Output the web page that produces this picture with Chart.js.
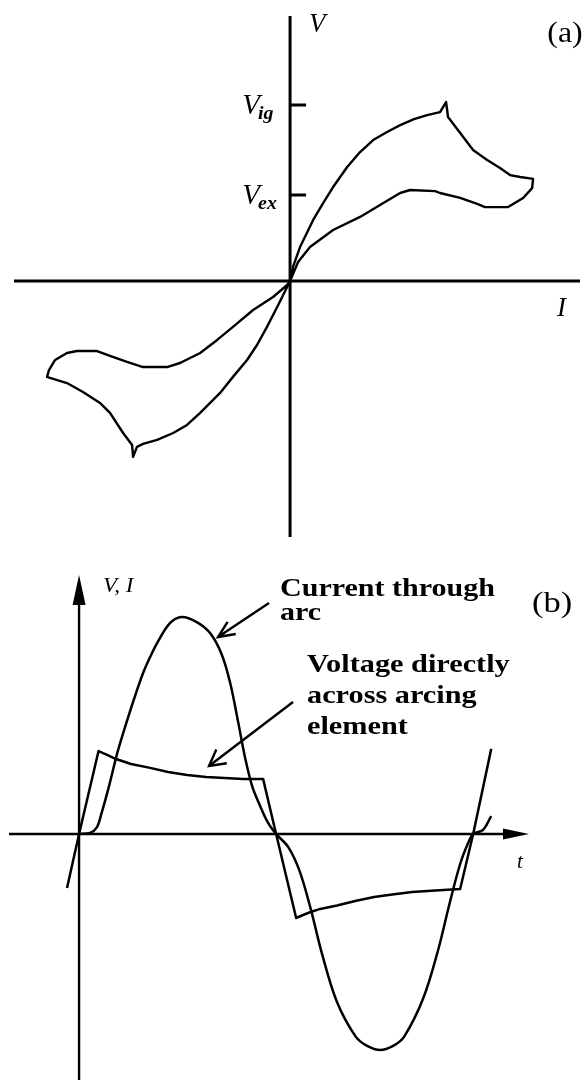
<!DOCTYPE html>
<html>
<head>
<meta charset="utf-8">
<script src="https://cdn.jsdelivr.net/npm/chart.js@4/dist/chart.umd.min.js"></script>
<style>
  html, body { margin: 0; padding: 0; background: #fff; }
  #wrap { position: relative; width: 586px; height: 1080px; overflow: hidden; }
  canvas { position: absolute; left: 0; }
  #ca { top: 0; }
  #cb { top: 540px; }
</style>
</head>
<body>
<div id="wrap">
  <canvas id="ca" width="586" height="540"></canvas>
  <canvas id="cb" width="586" height="540"></canvas>
</div>
<script>
// ---------- (a) dynamic V–I loop of the arc ----------
// Current in per-unit of the loop width, voltage in per-unit of V_ig.
const loopPosI = [0, 0.012, 0.041, 0.095, 0.136, 0.177, 0.235, 0.288, 0.342, 0.399, 0.453, 0.510, 0.564, 0.617, 0.642, 0.650, 0.700, 0.753, 0.811, 0.864, 0.905, 0.947, 1.0, 0.996, 0.959, 0.897, 0.802, 0.770, 0.700, 0.617, 0.597, 0.494, 0.453, 0.370, 0.288, 0.177, 0.082, 0.033, 0];
const loopPosV = [0, 0.080, 0.193, 0.347, 0.443, 0.534, 0.648, 0.733, 0.801, 0.847, 0.886, 0.920, 0.943, 0.960, 1.017, 0.932, 0.841, 0.744, 0.688, 0.642, 0.602, 0.591, 0.580, 0.528, 0.472, 0.420, 0.420, 0.438, 0.472, 0.500, 0.511, 0.517, 0.500, 0.432, 0.364, 0.290, 0.193, 0.108, 0];
const loopNegI = [0, -0.012, -0.053, -0.095, -0.136, -0.177, -0.235, -0.288, -0.370, -0.424, -0.481, -0.547, -0.605, -0.630, -0.646, -0.650, -0.687, -0.741, -0.782, -0.852, -0.918, -0.988, -1.0, -0.992, -0.967, -0.918, -0.877, -0.794, -0.741, -0.671, -0.605, -0.506, -0.453, -0.370, -0.300, -0.235, -0.152, -0.070, -0.012, 0];
const loopNegV = [0, -0.034, -0.148, -0.261, -0.364, -0.449, -0.545, -0.636, -0.750, -0.818, -0.864, -0.903, -0.926, -0.943, -1.0, -0.932, -0.864, -0.750, -0.693, -0.631, -0.580, -0.551, -0.545, -0.506, -0.449, -0.409, -0.398, -0.398, -0.426, -0.460, -0.489, -0.489, -0.466, -0.409, -0.335, -0.261, -0.165, -0.091, -0.023, 0];
const vTickValues = [1.0, 0.489];          // V_ig, V_ex
const vTickNames  = [['V', 'ig'], ['V', 'ex']];
const I_RANGE = [-1.136, 1.193];
const V_RANGE = [-1.455, 1.506];

// ---------- (b) waveforms over one cycle (t in electrical degrees) ----------
const currentT = [0, 10.1, 16.4, 20.1, 27.2, 35.2, 44.8, 51.2, 58.5, 64.9, 71.3, 83.2, 93.8, 107.5, 119.7, 130.4, 138.0, 145.3, 151.7, 158.1, 165.4, 172.7, 180, 191, 201.4, 211.6, 222, 235.6, 252.7, 263.2, 275, 286.9, 297, 314.3, 328, 338, 348.1, 355.4, 360, 369, 376.5];
const currentY = [0, 0.005, 0.032, 0.088, 0.218, 0.380, 0.540, 0.640, 0.745, 0.819, 0.884, 0.977, 1.005, 0.981, 0.930, 0.830, 0.700, 0.519, 0.352, 0.222, 0.130, 0.051, 0, -0.060, -0.171, -0.347, -0.556, -0.778, -0.938, -0.981, -1.0, -0.981, -0.938, -0.762, -0.537, -0.331, -0.139, -0.042, 0, 0.019, 0.083];
const voltageT = [-11, 0, 17.8, 25.6, 33.8, 47.5, 64.9, 81.3, 98.7, 116.0, 133.0, 149.9, 168.1, 180, 198.3, 204.7, 211.6, 220.2, 235.7, 252.2, 269.5, 286.0, 304.3, 325.3, 348.1, 360, 376.5];
const voltageY = [-0.25, 0, 0.384, 0.366, 0.347, 0.324, 0.306, 0.287, 0.273, 0.264, 0.259, 0.255, 0.255, 0, -0.389, -0.375, -0.361, -0.347, -0.331, -0.310, -0.292, -0.280, -0.269, -0.262, -0.255, 0, 0.394];
const T_RANGE = [-64, 411];
const Y_RANGE = [-1.139, 1.199];

const SERIF = "'Liberation Serif', 'Times New Roman', serif";

function pts(xs, ys) { return xs.map((x, i) => ({ x: x, y: ys[i] })); }

function text(ctx, str, x, y, font, align, sx) {
  ctx.save();
  ctx.font = font;
  ctx.textAlign = align || 'left';
  ctx.textBaseline = 'alphabetic';
  ctx.fillStyle = '#000';
  ctx.translate(x, y);
  ctx.scale(sx || 1, 1);
  ctx.fillText(str, 0, 0);
  ctx.restore();
}

function openArrow(ctx, x1, y1, x2, y2, len, ang) {
  const a = Math.atan2(y1 - y2, x1 - x2);
  ctx.beginPath();
  ctx.moveTo(x1, y1); ctx.lineTo(x2, y2);
  ctx.moveTo(x2 + len * Math.cos(a - ang), y2 + len * Math.sin(a - ang));
  ctx.lineTo(x2, y2);
  ctx.lineTo(x2 + len * Math.cos(a + ang), y2 + len * Math.sin(a + ang));
  ctx.stroke();
}

const lineStyle = { showLine: true, borderColor: '#000', pointRadius: 0, tension: 0, fill: false, borderJoinStyle: 'round' };

const baseOptions = (xr, yr, pad) => ({
  responsive: false,
  animation: false,
  devicePixelRatio: 1,
  layout: { padding: pad },
  plugins: { legend: { display: false }, tooltip: { enabled: false } },
  scales: {
    x: { type: 'linear', min: xr[0], max: xr[1], display: false },
    y: { type: 'linear', min: yr[0], max: yr[1], display: false }
  }
});

// axes crossing at the origin, V-axis ticks and labels for (a)
const axesA = {
  id: 'axesA',
  beforeDatasetsDraw(chart) {
    const { ctx, chartArea: a, scales: { x, y } } = chart;
    const x0 = x.getPixelForValue(0), y0 = y.getPixelForValue(0);
    ctx.save();
    ctx.strokeStyle = '#000';
    ctx.lineWidth = 3;
    ctx.beginPath();
    ctx.moveTo(a.left, y0); ctx.lineTo(a.right, y0);
    ctx.moveTo(x0, a.top); ctx.lineTo(x0, a.bottom);
    vTickValues.forEach(v => {
      const py = y.getPixelForValue(v);
      ctx.moveTo(x0, py); ctx.lineTo(x0 + 16, py);
    });
    ctx.stroke();
    ctx.restore();

    vTickValues.forEach((v, k) => {
      const py = y.getPixelForValue(v);
      text(ctx, vTickNames[k][0], x0 - 30, py + 9, 'italic 29px ' + SERIF, 'right', 1.0);
      text(ctx, vTickNames[k][1], x0 - 32, py + 14, 'italic bold 19px ' + SERIF, 'left', 1.05);
    });
    text(ctx, 'V', x0 + 19, a.top + 16, 'italic 27px ' + SERIF, 'left', 1.0);
    text(ctx, 'I', a.right - 23, y0 + 35, 'italic 27px ' + SERIF, 'left', 1.0);
    text(ctx, '(a)', 565, 42, '29px ' + SERIF, 'center', 1.1);
  }
};

// axes with arrowheads, labels and call-outs for (b)
const axesB = {
  id: 'axesB',
  beforeDatasetsDraw(chart) {
    const { ctx, chartArea: a, scales: { x, y } } = chart;
    const x0 = x.getPixelForValue(0), y0 = y.getPixelForValue(0);
    ctx.save();
    ctx.strokeStyle = '#000';
    ctx.fillStyle = '#000';
    ctx.lineWidth = 2.4;
    ctx.beginPath();
    ctx.moveTo(a.left, y0); ctx.lineTo(a.right - 20, y0);
    ctx.moveTo(x0, a.bottom); ctx.lineTo(x0, a.top + 25);
    ctx.stroke();
    // arrowheads
    ctx.beginPath();
    ctx.moveTo(a.right, y0); ctx.lineTo(a.right - 26, y0 - 5.5); ctx.lineTo(a.right - 26, y0 + 5.5); ctx.closePath();
    ctx.moveTo(x0, a.top); ctx.lineTo(x0 - 6.5, a.top + 30); ctx.lineTo(x0 + 6.5, a.top + 30); ctx.closePath();
    ctx.fill();
    ctx.restore();

    text(ctx, 'V, I', x0 + 24, a.top + 17, 'italic 21px ' + SERIF, 'left', 1.1);
    text(ctx, 't', a.right - 12, y0 + 34, 'italic 21px ' + SERIF, 'left', 1.0);
    text(ctx, '(b)', 552, 72, '30px ' + SERIF, 'center', 1.15);
  },
  afterDatasetsDraw(chart) {
    const { ctx } = chart;
    const B = 'bold 26px ' + SERIF;
    text(ctx, 'Current through', 280, 56, B, 'left', 1.155);
    text(ctx, 'arc', 280, 80, B, 'left', 1.155);
    text(ctx, 'Voltage directly', 307, 132, B, 'left', 1.165);
    text(ctx, 'across arcing', 307, 163, B, 'left', 1.165);
    text(ctx, 'element', 307, 194, B, 'left', 1.165);
    ctx.save();
    ctx.strokeStyle = '#000';
    ctx.lineWidth = 2.4;
    ctx.lineCap = 'butt';
    openArrow(ctx, 269, 63, 218, 97, 18, 0.42);
    openArrow(ctx, 293, 162, 209, 226, 18, 0.5);
    ctx.restore();
  }
};

new Chart(document.getElementById('ca'), {
  type: 'scatter',
  data: {
    datasets: [
      Object.assign({ label: 'positive half-cycle', data: pts(loopPosI, loopPosV), borderWidth: 2.4 }, lineStyle),
      Object.assign({ label: 'negative half-cycle', data: pts(loopNegI, loopNegV), borderWidth: 2.4 }, lineStyle)
    ]
  },
  options: baseOptions(I_RANGE, V_RANGE, { left: 14, right: 6, top: 16, bottom: 3 }),
  plugins: [axesA]
});

new Chart(document.getElementById('cb'), {
  type: 'scatter',
  data: {
    datasets: [
      Object.assign({ label: 'Current through arc', data: pts(currentT, currentY), borderWidth: 2.5 }, lineStyle, { tension: 0.35 }),
      Object.assign({ label: 'Voltage directly across arcing element', data: pts(voltageT, voltageY), borderWidth: 2.5 }, lineStyle)
    ]
  },
  options: baseOptions(T_RANGE, Y_RANGE, { left: 9, right: 57, top: 35, bottom: 0 }),
  plugins: [axesB]
});
</script>
</body>
</html>
